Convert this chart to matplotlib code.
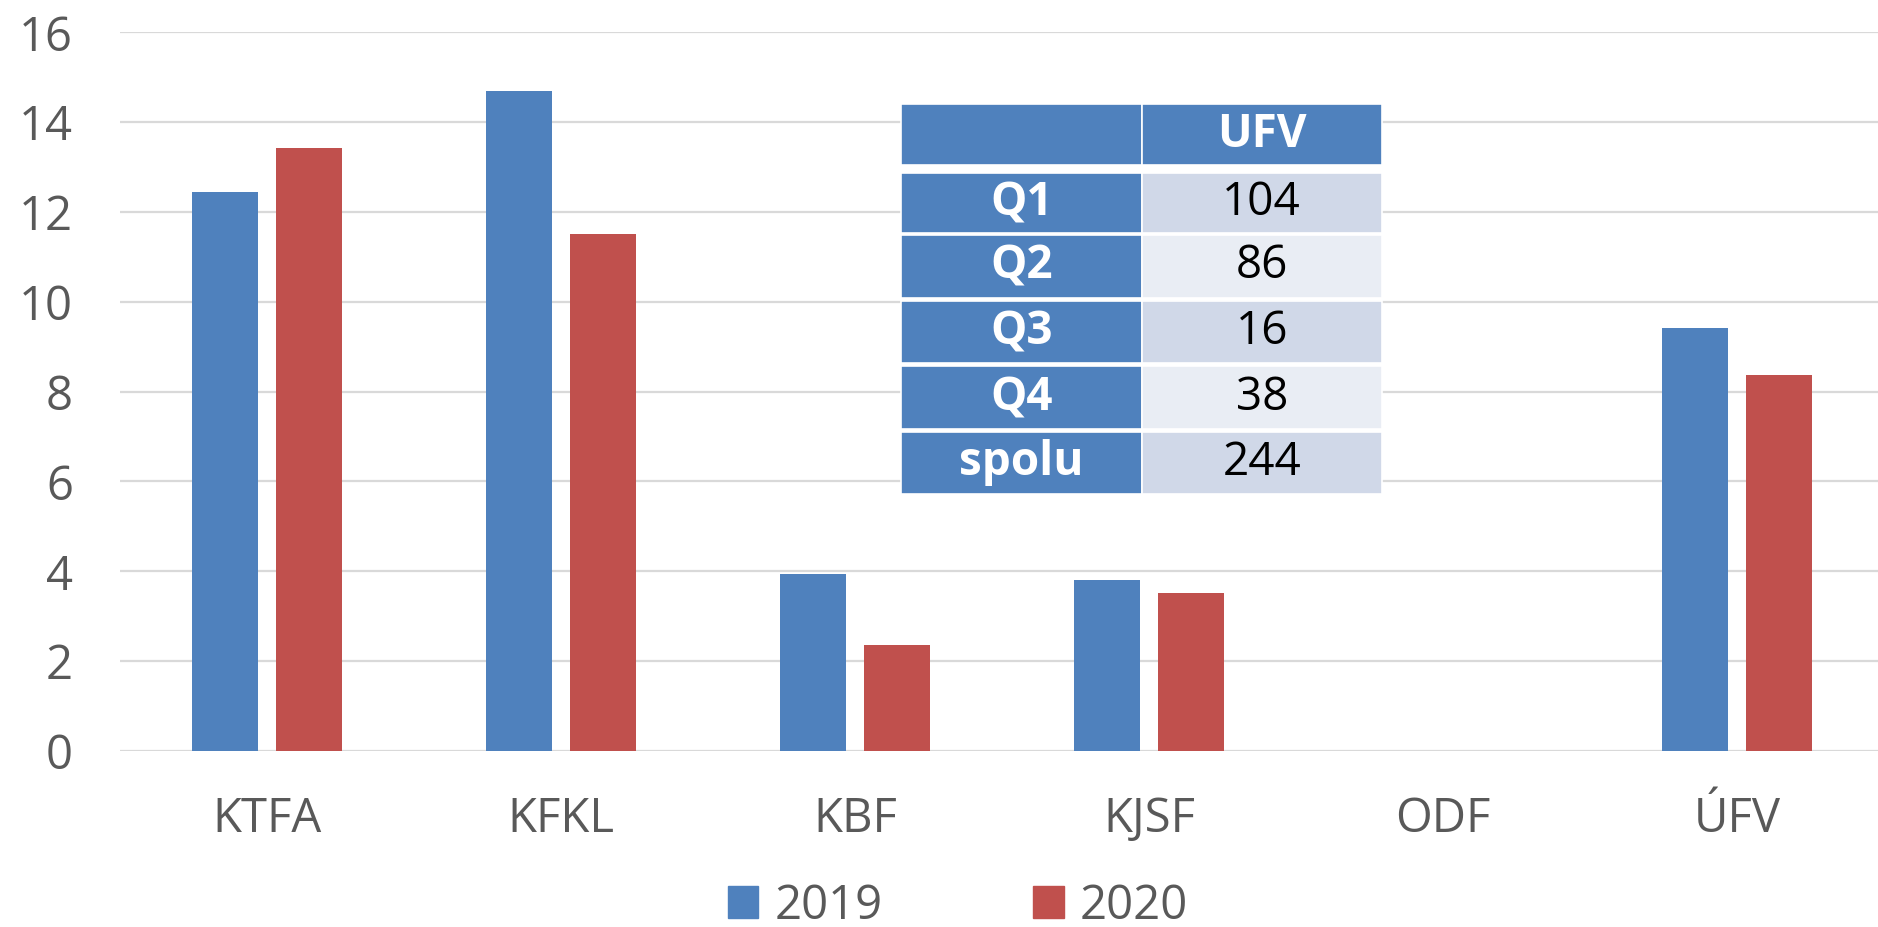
import matplotlib
matplotlib.use("Agg")
import matplotlib.pyplot as plt
from matplotlib.patches import Rectangle, Patch
import numpy as np

categories = ["KTFA", "KFKL", "KBF", "KJSF", "ODF", "ÚFV"]
v2019 = [12.45, 14.69, 3.94, 3.81, 0, 9.41]
v2020 = [13.42, 11.51, 2.37, 3.52, 0, 8.37]
years = ["2019", "2020"]

table_header = "UFV"
table_rows = ["Q1", "Q2", "Q3", "Q4", "spolu"]
table_vals = ["104", "86", "16", "38", "244"]

BLUE = "#4F81BD"
RED = "#C0504D"
GRAY = "#595959"

plt.rcParams["font.family"] = ["Open Sans", "DejaVu Sans"]

W, H = 1878, 927
fig = plt.figure(figsize=(W / 100, H / 100), dpi=100)
ax = fig.add_axes([120 / W, 1 - 751 / H, 1764 / W, (751 - 32.3) / H])

x = np.arange(len(categories))
bw = 0.2236
off = 0.1423
ax.bar(x - off, v2019, bw, color=BLUE, zorder=3)
ax.bar(x + off, v2020, bw, color=RED, zorder=3)

ax.set_xlim(-0.5, 5.5)
ax.set_ylim(0, 16)
ax.set_yticks(range(0, 17, 2))
ax.set_xticks(x)
ax.set_xticklabels(categories)
ax.grid(axis="y", color="#D9D9D9", linewidth=1.6, zorder=0)
ax.set_axisbelow(True)
for s in ax.spines.values():
    s.set_visible(False)
ax.tick_params(axis="both", length=0, labelsize=34, colors=GRAY)
ax.tick_params(axis="y", pad=34)
ax.tick_params(axis="x", pad=32)

# legend
handles = [Patch(color=BLUE), Patch(color=RED)]
fig.legend(handles, years, loc="center", bbox_to_anchor=(958 / W, 1 - 906 / H),
           ncol=2, frameon=False, fontsize=34, labelcolor=GRAY,
           handlelength=0.64, handleheight=0.68, handletextpad=0.34,
           columnspacing=3.2, borderaxespad=0, borderpad=0)

# inset table, drawn in figure pixel coordinates
tx0, tx1, tx2 = 901, 1141.5, 1382
header_top, header_bot = 104.3, 164.7
row_edges = [(172.7, 232.7), (235, 298), (300.7, 363), (366, 429), (431.7, 494)]


def cell(xa, xb, ya, yb, color):
    fig.patches.append(Rectangle((xa / W, 1 - yb / H), (xb - xa) / W, (yb - ya) / H,
                                 transform=fig.transFigure, facecolor=color,
                                 edgecolor="white", linewidth=1.2, zorder=5))


cell(tx0, tx1, header_top, header_bot, BLUE)
cell(tx1, tx2, header_top, header_bot, BLUE)
fig.text((tx1 + tx2) / 2 / W, 1 - (header_top + header_bot) / 2 / H, table_header,
         ha="center", va="center", color="white", fontsize=33, fontweight="bold", zorder=6)
for i, (lab, val) in enumerate(zip(table_rows, table_vals)):
    ya, yb = row_edges[i]
    cell(tx0, tx1, ya, yb, BLUE)
    cell(tx1, tx2, ya, yb, "#D0D8E8" if i % 2 == 0 else "#E9EDF4")
    yc = 1 - (ya + yb) / 2 / H
    fig.text((tx0 + tx1) / 2 / W, yc, lab, ha="center", va="center",
             color="white", fontsize=33, fontweight="bold", zorder=6)
    fig.text((tx1 + tx2) / 2 / W, yc, val, ha="center", va="center",
             color="black", fontsize=33, zorder=6)

fig.savefig("out.png", dpi=100)
